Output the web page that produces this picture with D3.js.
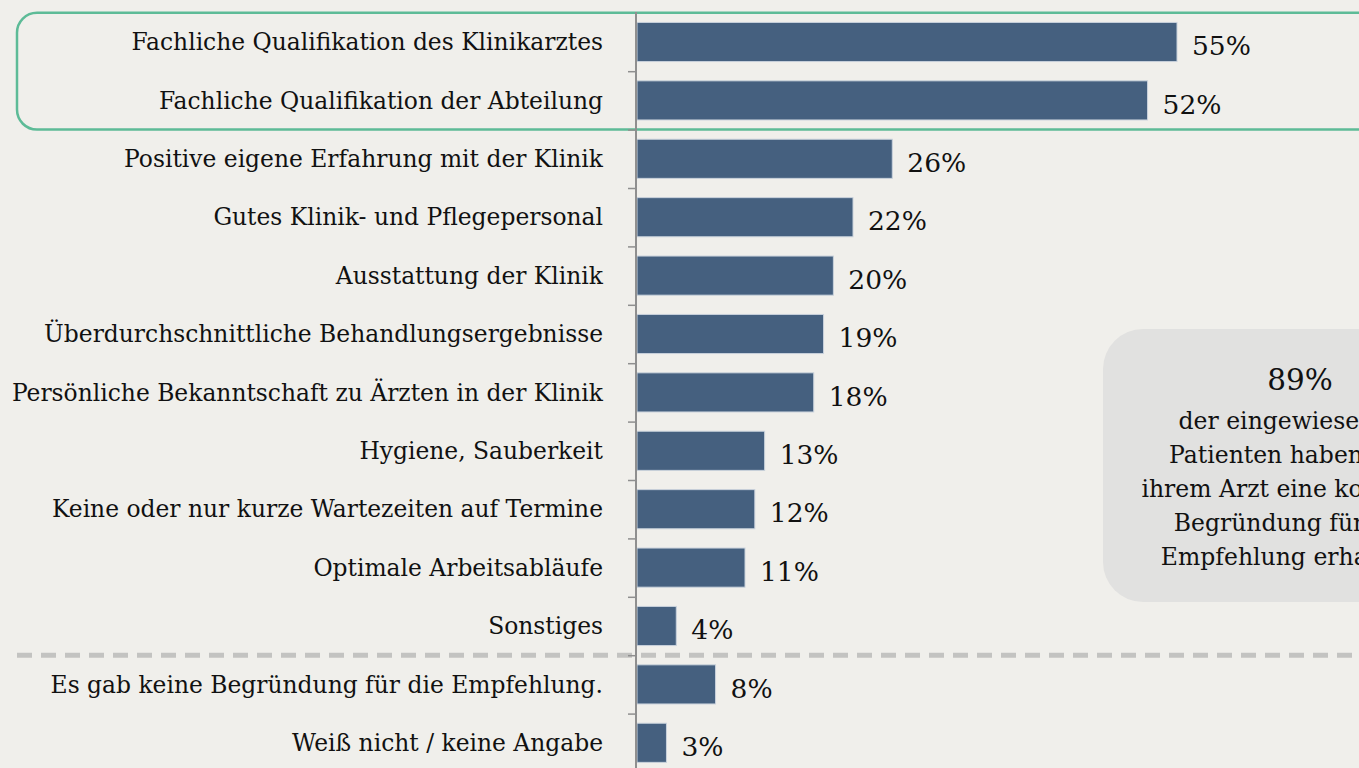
<!DOCTYPE html>
<html>
<head>
<meta charset="utf-8">
<script src="https://cdn.jsdelivr.net/npm/d3@7"></script>
<style>
  html, body { margin: 0; padding: 0; background: #f0efeb; }
  svg { display: block; }
  text { font-family: "Palatino Linotype", "Book Antiqua", Palatino, "DejaVu Serif", serif; fill: #111; }
</style>
</head>
<body>
<div id="chart"></div>
<script>
'use strict';

// Categories (top to bottom)
var categories = [
  'Fachliche Qualifikation des Klinikarztes',
  'Fachliche Qualifikation der Abteilung',
  'Positive eigene Erfahrung mit der Klinik',
  'Gutes Klinik- und Pflegepersonal',
  'Ausstattung der Klinik',
  'Überdurchschnittliche Behandlungsergebnisse',
  'Persönliche Bekanntschaft zu Ärzten in der Klinik',
  'Hygiene, Sauberkeit',
  'Keine oder nur kurze Wartezeiten auf Termine',
  'Optimale Arbeitsabläufe',
  'Sonstiges',
  'Es gab keine Begründung für die Empfehlung.',
  'Weiß nicht / keine Angabe'
];
// Share in percent
var values = [55, 52, 26, 22, 20, 19, 18, 13, 12, 11, 4, 8, 3];

var highlighted = categories.slice(0, 2);
var separatorAfter = 'Sonstiges';

var calloutValue = '89%';
var calloutLines = [
  'der eingewiesenen',
  'Patienten haben von',
  'ihrem Arzt eine konkrete',
  'Begründung für die',
  'Empfehlung erhalten.'
];

var width = 1359, height = 768;
var axisX = 637;

var svg = d3.select('#chart').append('svg')
  .attr('width', width)
  .attr('height', height);

var y = d3.scaleBand()
  .domain(categories)
  .range([12.8, 12.8 + 58.4 * categories.length])
  .paddingInner(0.33)
  .paddingOuter(0.165);

var x = d3.scaleLinear()
  .domain([0, 55])
  .range([axisX, 1177]);

var step = y.step();
var gap = step - y.bandwidth();
function bandTop(d) { return y(d) - gap / 2; }

// Highlight box around the first two rows
var hlTop = bandTop(highlighted[0]);
var hlBottom = bandTop(highlighted[highlighted.length - 1]) + step;
svg.append('rect')
  .attr('x', 17)
  .attr('y', hlTop)
  .attr('width', 1400)
  .attr('height', hlBottom - hlTop)
  .attr('rx', 20)
  .attr('fill', 'none')
  .attr('stroke', '#5dbb97')
  .attr('stroke-width', 2.5);

// Dashed separator
var sepY = bandTop(separatorAfter) + step;
svg.append('line')
  .attr('x1', 17)
  .attr('x2', width)
  .attr('y1', sepY)
  .attr('y2', sepY)
  .attr('stroke', '#c3c3c1')
  .attr('stroke-width', 5)
  .attr('stroke-dasharray', '15 9');

// Callout box
var cb = svg.append('g');
cb.append('rect')
  .attr('x', 1103)
  .attr('y', 329)
  .attr('width', 320)
  .attr('height', 273)
  .attr('rx', 40)
  .attr('fill', '#e1e1e0');
cb.append('text')
  .attr('x', 1300)
  .attr('y', 390)
  .attr('text-anchor', 'middle')
  .style('font-size', '29.5px')
  .text(calloutValue);
cb.selectAll('text.line')
  .data(calloutLines)
  .enter().append('text')
  .attr('class', 'line')
  .attr('x', 1291)
  .attr('y', function(d, i) { return 429 + i * 34; })
  .attr('text-anchor', 'middle')
  .style('font-size', '23.5px')
  .text(function(d) { return d; });

// Bars
svg.selectAll('rect.bar')
  .data(values)
  .enter().append('rect')
  .attr('class', 'bar')
  .attr('x', x(0))
  .attr('y', function(d, i) { return y(categories[i]); })
  .attr('width', function(d) { return x(d) - x(0); })
  .attr('height', y.bandwidth())
  .attr('fill', '#45607f')
  .attr('stroke', '#c9d2dc')
  .attr('stroke-width', 1);

// Value labels
svg.selectAll('text.value')
  .data(values)
  .enter().append('text')
  .attr('class', 'value')
  .attr('x', function(d) { return x(d) + 15; })
  .attr('y', function(d, i) { return y(categories[i]) + y.bandwidth() / 2 + 4; })
  .attr('dy', '0.35em')
  .style('font-size', '26.5px')
  .text(function(d) { return d + '%'; });

// Category labels
svg.selectAll('text.cat')
  .data(categories)
  .enter().append('text')
  .attr('class', 'cat')
  .attr('x', 603)
  .attr('y', function(d) { return y(d) + y.bandwidth() / 2; })
  .attr('dy', '0.35em')
  .attr('text-anchor', 'end')
  .style('font-size', '23.4px')
  .text(function(d) { return d; });

// Axis with ticks at band boundaries
var edge = d3.scaleLinear()
  .domain([0, categories.length])
  .range([bandTop(categories[0]), bandTop(categories[0]) + step * categories.length]);
var axis = svg.append('g')
  .attr('transform', 'translate(' + axisX + ',0)')
  .call(d3.axisLeft(edge)
    .tickValues(d3.range(1, categories.length))
    .tickSize(9)
    .tickFormat(''));
axis.select('.domain').remove();
axis.selectAll('.tick line').attr('stroke', '#8f8f8f').attr('stroke-width', 1.5);
svg.append('line')
  .attr('x1', axisX - 1)
  .attr('x2', axisX - 1)
  .attr('y1', 12)
  .attr('y2', height)
  .attr('stroke', '#8f8f8f')
  .attr('stroke-width', 2);
</script>
</body>
</html>
